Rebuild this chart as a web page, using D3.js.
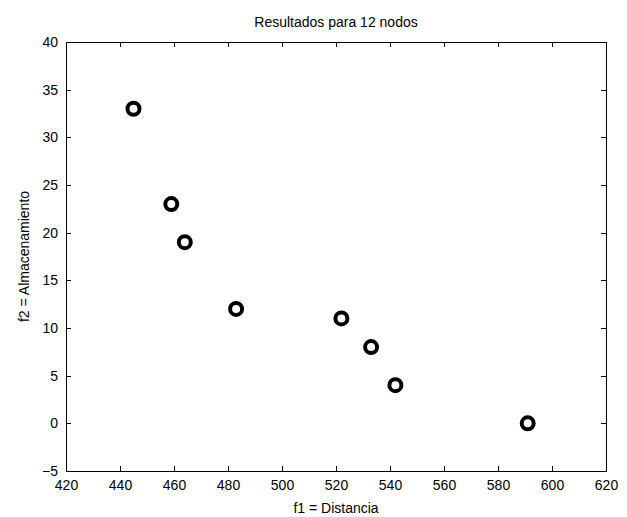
<!DOCTYPE html>
<html><head><meta charset="utf-8">
<script src="https://cdn.jsdelivr.net/npm/d3@7"></script>
<style>body{margin:0;background:#fff}svg{display:block}text{font-family:"Liberation Sans",Arial,sans-serif;fill:#000}</style>
</head><body>
<script>
const title = "Resultados para 12 nodos";
const xLabel = "f1 = Distancia";
const yLabel = "f2 = Almacenamiento";
const f1 = [445, 459, 464, 483, 522, 533, 542, 591];
const f2 = [33, 23, 19, 12, 11, 8, 4, 0];
const xTicks = [420, 440, 460, 480, 500, 520, 540, 560, 580, 600, 620];
const yTicks = [-5, 0, 5, 10, 15, 20, 25, 30, 35, 40];

const W = 627, H = 517;
const L = 66, R = 606, T = 42, B = 471;
const svg = d3.select("body").append("svg").attr("width", W).attr("height", H);
const x = d3.scaleLinear().domain([420, 620]).range([L, R]);
const y = d3.scaleLinear().domain([-5, 40]).range([B, T]);

const fs = "14px";
const tickLen = 5;
const gx = svg.append("g").attr("transform", `translate(0,${B})`)
  .call(d3.axisBottom(x).tickValues(xTicks).tickSize(-tickLen).tickPadding(9).tickFormat(d3.format("d")));
const gxt = svg.append("g").attr("transform", `translate(0,${T})`)
  .call(d3.axisTop(x).tickValues(xTicks).tickSize(-tickLen).tickFormat(""));
const gy = svg.append("g").attr("transform", `translate(${L},0)`)
  .call(d3.axisLeft(y).tickValues(yTicks).tickSize(-tickLen).tickPadding(8).tickFormat(d3.format("d")));
const gyr = svg.append("g").attr("transform", `translate(${R},0)`)
  .call(d3.axisRight(y).tickValues(yTicks).tickSize(-tickLen).tickFormat(""));
[gx, gxt, gy, gyr].forEach(g => {
  g.select(".domain").remove();
  g.selectAll(".tick line").attr("stroke", "#000").attr("stroke-width", 1).attr("shape-rendering", "crispEdges");
  g.selectAll("text").attr("font-size", fs).attr("font-family", '"Liberation Sans",Arial,sans-serif').attr("fill", "#000");
});
svg.append("rect").attr("x", L).attr("y", T).attr("width", R - L).attr("height", B - T)
  .attr("fill", "none").attr("stroke", "#000").attr("stroke-width", 1).attr("shape-rendering", "crispEdges");

const pts = f1.map((v, i) => ({ a: v, b: f2[i] }));
svg.append("g").selectAll("circle").data(pts).join("circle")
  .attr("cx", d => x(d.a)).attr("cy", d => y(d.b)).attr("r", 6)
  .attr("fill", "none").attr("stroke", "#000").attr("stroke-width", 4);

svg.append("text").attr("x", (L + R) / 2).attr("y", 27).attr("text-anchor", "middle").attr("font-size", fs).text(title);
svg.append("text").attr("x", (L + R) / 2).attr("y", 513).attr("text-anchor", "middle").attr("font-size", fs).text(xLabel);
svg.append("text").attr("transform", `translate(29,${(T + B) / 2}) rotate(-90)`).attr("text-anchor", "middle").attr("font-size", fs).text(yLabel);
</script>
</body></html>
